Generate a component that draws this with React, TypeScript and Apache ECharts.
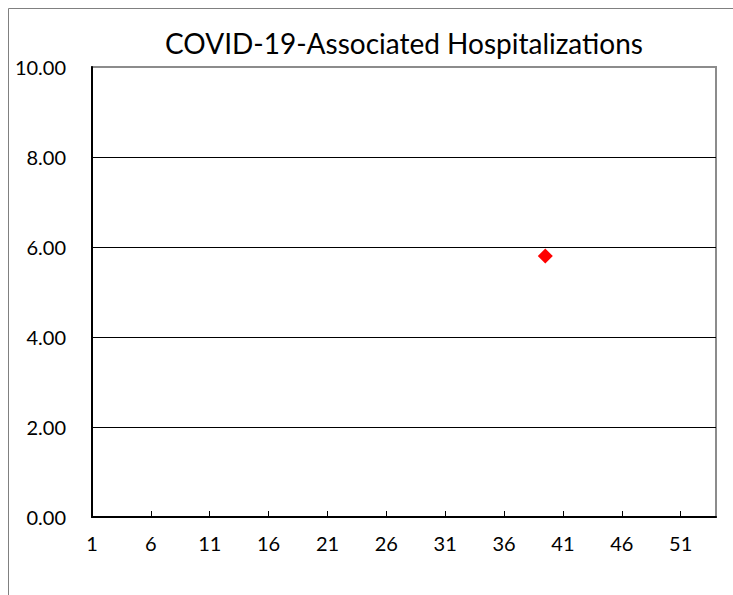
import React, { useEffect, useRef } from "react";
import * as echarts from "echarts";

const TITLE = "COVID-19-Associated Hospitalizations";
const weekLabels: string[] = Array.from({ length: 54 }, (_, i) => String(i + 1));
const weekCategories: string[] = Array.from({ length: 53 }, (_, i) => String(i + 1));
const pointWeeks: string[] = ["39"];
const pointValues: number[] = [5.8];
const yTicks = { min: 0, max: 10, interval: 2 };

const FONT = "Lato";

export default function App() {
  const ref = useRef<HTMLDivElement>(null);
  useEffect(() => {
    document.body.style.margin = "0";
    document.body.style.overflow = "hidden";
    if (!ref.current) return;
    const chart = echarts.init(ref.current, undefined, { renderer: "svg" });
    chart.setOption({
      animation: false,
      backgroundColor: "#ffffff",
      title: {
        text: TITLE,
        left: 399,
        top: 24,
        textAlign: "center",
        textStyle: { fontFamily: FONT, fontSize: 28, fontWeight: "normal", color: "#000" },
      },
      graphic: [
        {
          type: "rect",
          shape: { x: 8.5, y: 8.5, width: 900, height: 900 },
          style: { fill: "none", stroke: "#808080", lineWidth: 1 },
          silent: true,
        },
      ],
      grid: {
        left: 92,
        top: 67,
        right: 17,
        bottom: 78,
        show: true,
        borderColor: "#8c8c8c",
        borderWidth: 2,
        backgroundColor: "transparent",
      },
      xAxis: [
        {
          type: "category",
          data: weekLabels,
          boundaryGap: false,
          axisLine: { lineStyle: { color: "#000", width: 2 } },
          axisTick: { inside: true, length: 6, interval: 4, lineStyle: { color: "#000" } },
          axisLabel: { interval: 4, margin: 16, fontFamily: FONT, fontSize: 20, color: "#000" },
          splitLine: { show: false },
        },
        {
          type: "category",
          data: weekCategories,
          boundaryGap: true,
          show: false,
        },
      ],
      yAxis: {
        type: "value",
        min: yTicks.min,
        max: yTicks.max,
        interval: yTicks.interval,
        axisLine: { show: true, lineStyle: { color: "#000", width: 2 } },
        axisTick: { show: false },
        axisLabel: {
          margin: 26,
          fontFamily: FONT,
          fontSize: 20,
          color: "#000",
          formatter: (v: number) => v.toFixed(2),
        },
        splitLine: { show: true, showMaxLine: false, lineStyle: { color: "#000", width: 1 } },
      },
      series: [
        {
          type: "scatter",
          xAxisIndex: 1,
          symbol: "diamond",
          symbolSize: 15,
          itemStyle: { color: "#ff0000", opacity: 1 },
          data: pointWeeks.map((w, i) => [w, pointValues[i]]),
        },
      ],
    });
    return () => chart.dispose();
  }, []);
  return <div ref={ref} style={{ width: 733, height: 595 }} />;
}
